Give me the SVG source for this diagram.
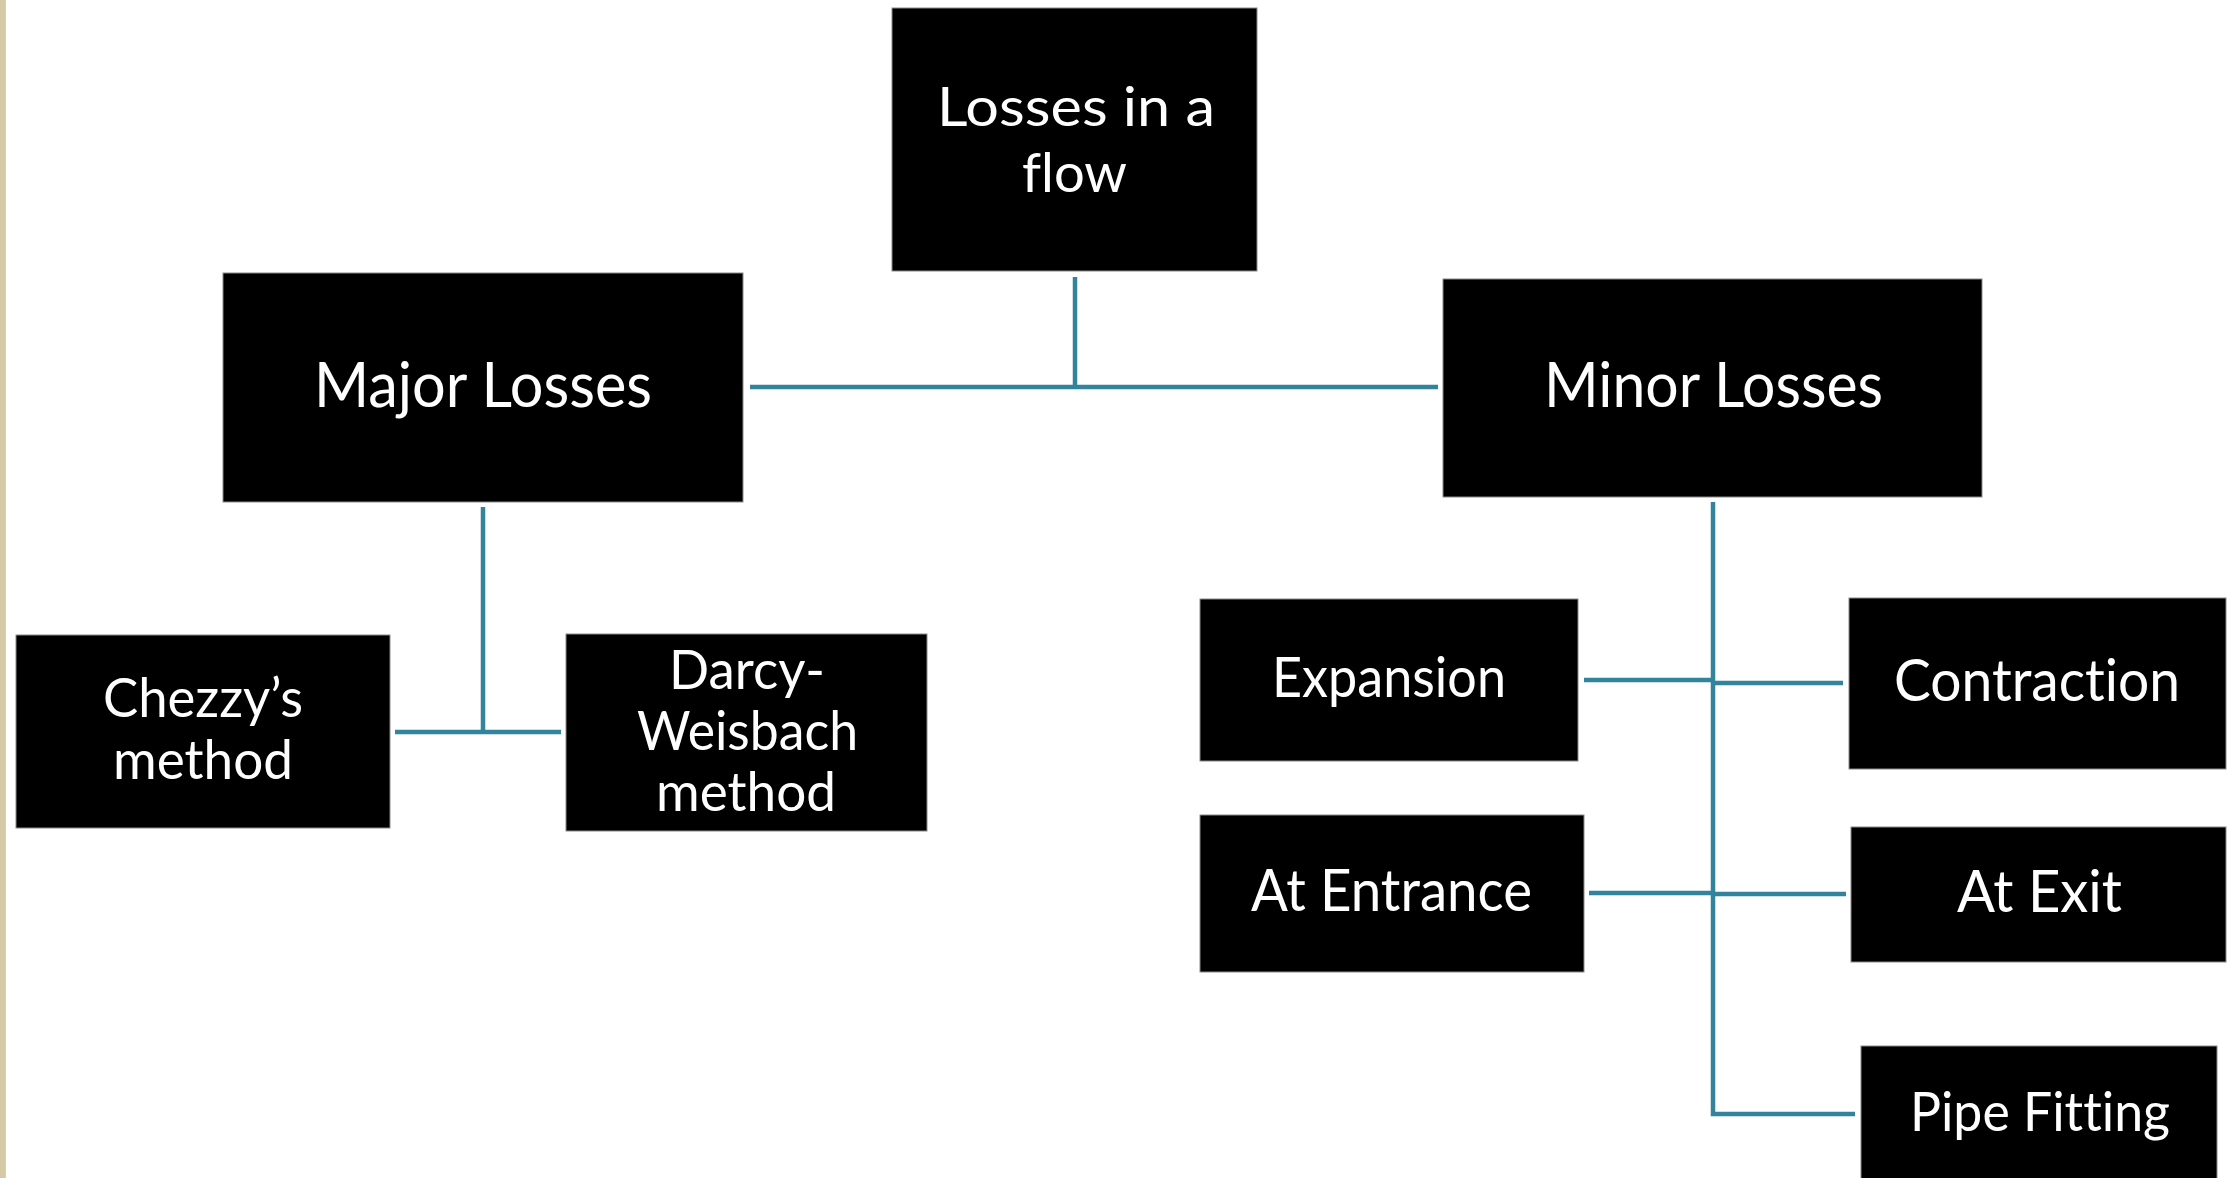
<svg xmlns="http://www.w3.org/2000/svg" width="2228" height="1178" viewBox="0 0 2228 1178">
<style>
.box{fill:#000;stroke:#8a8a8a;stroke-width:1}
.lbl{fill:#fff;font-family:"Lato","Open Sans","Liberation Sans",sans-serif;text-anchor:middle;font-variant-ligatures:none;font-feature-settings:"liga" 0,"clig" 0}
.con{fill:none;stroke:#31849B;stroke-width:4.5}
</style>
<rect x="0" y="0" width="2228" height="1178" fill="#ffffff"/>
<rect x="0" y="0" width="5" height="1178" fill="#d6c9a5"/>
<line x1="5.5" y1="0" x2="5.5" y2="1178" stroke="#cfcfcf" stroke-width="1"/>
<g id="connectors">
<path class="con" d="M1075,277 V388"/>
<path class="con" d="M750,387 H1438"/>
<path class="con" d="M483,507 V733"/>
<path class="con" d="M395,732 H561"/>
<path class="con" d="M1713,502 V1114 H1855"/>
<path class="con" d="M1584,680 H1713"/>
<path class="con" d="M1713,683 H1843"/>
<path class="con" d="M1589,893 H1713"/>
<path class="con" d="M1713,894 H1846"/>
</g>
<g id="losses-in-a-flow">
<rect class="box" x="892" y="8" width="365" height="263"/>
<text class="lbl" x="1076" y="126" font-size="55" textLength="278" lengthAdjust="spacingAndGlyphs">Losses in a</text>
<text class="lbl" x="1074.5" y="192" font-size="55" textLength="105" lengthAdjust="spacingAndGlyphs">flow</text>
</g>
<g id="major-losses">
<rect class="box" x="223" y="273" width="520" height="229"/>
<text class="lbl" x="483" y="407" font-size="62" textLength="338" lengthAdjust="spacingAndGlyphs">Major Losses</text>
</g>
<g id="minor-losses">
<rect class="box" x="1443" y="279" width="539" height="218"/>
<text class="lbl" x="1713.5" y="407" font-size="62" textLength="339" lengthAdjust="spacingAndGlyphs">Minor Losses</text>
</g>
<g id="chezzys-method">
<rect class="box" x="16" y="635" width="374" height="193"/>
<text class="lbl" x="203" y="717" font-size="54" textLength="200" lengthAdjust="spacingAndGlyphs">Chezzy’s</text>
<text class="lbl" x="203" y="779" font-size="54" textLength="180" lengthAdjust="spacingAndGlyphs">method</text>
</g>
<g id="darcy-weisbach-method">
<rect class="box" x="566" y="634" width="361" height="197"/>
<text class="lbl" x="747" y="689" font-size="54" textLength="156" lengthAdjust="spacingAndGlyphs">Darcy-</text>
<text class="lbl" x="747.5" y="750" font-size="54" textLength="221" lengthAdjust="spacingAndGlyphs">Weisbach</text>
<text class="lbl" x="746" y="811" font-size="54" textLength="180" lengthAdjust="spacingAndGlyphs">method</text>
</g>
<g id="expansion">
<rect class="box" x="1200" y="599" width="378" height="162"/>
<text class="lbl" x="1389" y="697" font-size="57" textLength="234" lengthAdjust="spacingAndGlyphs">Expansion</text>
</g>
<g id="at-entrance">
<rect class="box" x="1200" y="815" width="384" height="157"/>
<text class="lbl" x="1391.5" y="911" font-size="59" textLength="281" lengthAdjust="spacingAndGlyphs">At Entrance</text>
</g>
<g id="contraction">
<rect class="box" x="1849" y="598" width="377" height="171"/>
<text class="lbl" x="2037" y="701" font-size="59" textLength="286" lengthAdjust="spacingAndGlyphs">Contraction</text>
</g>
<g id="at-exit">
<rect class="box" x="1851" y="827" width="375" height="135"/>
<text class="lbl" x="2039.5" y="912" font-size="59" textLength="165" lengthAdjust="spacingAndGlyphs">At Exit</text>
</g>
<g id="pipe-fitting">
<rect class="box" x="1861" y="1046" width="356" height="150"/>
<text class="lbl" x="2040" y="1131" font-size="55" textLength="260" lengthAdjust="spacingAndGlyphs">Pipe Fitting</text>
</g>
</svg>
